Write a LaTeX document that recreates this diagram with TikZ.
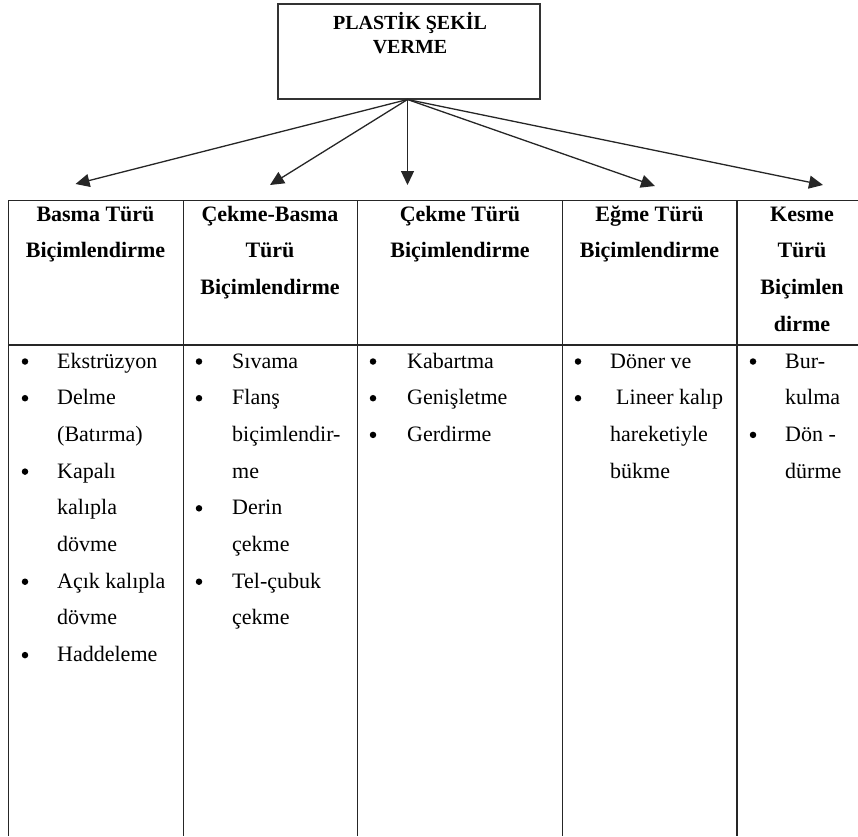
\documentclass[tikz,border=0pt]{standalone}
\usepackage{fontspec}
\setmainfont{Liberation Serif}
\usetikzlibrary{arrows.meta}
\begin{document}
\begin{tikzpicture}[x=1pt,y=-1pt,
  titlebox/.style={draw=black!80, line width=1.4pt, minimum width=262pt, minimum height=95pt, inner sep=0pt},
  titletext/.style={font=\fontsize{20}{24}\selectfont\bfseries, align=center, anchor=base, inner sep=0pt},
  hdr/.style={font=\fontsize{22}{36.7}\selectfont\bfseries, align=center, anchor=base, inner sep=0pt},
  item/.style={font=\fontsize{22}{36.7}\selectfont, align=left, anchor=base west, inner sep=0pt},
  bul/.style={circle, fill=black, inner sep=0pt, minimum size=6.5pt},
  gridline/.style={line width=1.4pt, draw=black!85},
  arr/.style={line width=1.3pt, draw=black!85, -{Triangle[length=14pt,width=13pt]}}]
\path[use as bounding box] (0,0) rectangle (858,836);
% note: for multi-line nodes the base anchor is the last line's baseline
% title box
\node[titlebox] (top) at (409,51.5) {};
\node[titletext] (title) at (410,53) {PLASTİK ŞEKİL\\VERME};

% arrows
\coordinate (src) at (407.5,99.5);
\coordinate (t1) at (75.5,184);
\coordinate (t2) at (270,185);
\coordinate (t3) at (407.5,185);
\coordinate (t4) at (655,186);
\coordinate (t5) at (823,185);
\foreach \t in {t1,t2,t3,t4,t5} \draw[arr] (src) -- (\t);

% table grid
\draw[gridline] (8,200.5) -- (858,200.5);
\draw[gridline] (8,345) -- (858,345);
\foreach \x in {8.5,183.3,357.4,562.6,737} \draw[gridline] (\x,200) -- (\x,836);

% headers (first baseline 221)
\node[hdr] (h1) at (95.5,257.7) {Basma Türü\\Biçimlendirme};
\node[hdr] (h2) at (270,294.4) {Çekme-Basma\\Türü\\Biçimlendirme};
\node[hdr] (h3) at (460,257.7) {Çekme Türü\\Biçimlendirme};
\node[hdr] (h4) at (649.5,257.7) {Eğme Türü\\Biçimlendirme};
\node[hdr] (h5) at (802,331.1) {Kesme\\Türü\\Biçimlen\\dirme};

% column 1
\node[item] (a1) at (57,368) {Ekstrüzyon};
\node[item] (a2) at (57,441.4) {Delme\\(Batırma)};
\node[item] (a3) at (57,551.5) {Kapalı\\kalıpla\\dövme};
\node[item] (a4) at (57,624.9) {Açık kalıpla\\dövme};
\node[item] (a5) at (57,661.6) {Haddeleme};
\foreach \y [count=\i] in {368,404.7,478.1,588.2,661.6} \node[bul] (ba\i) at (25,\y-6.5) {};

% column 2
\node[item] (b1) at (232,368) {Sıvama};
\node[item] (b2) at (232,478.1) {Flanş\\biçimlendir-\\me};
\node[item] (b3) at (232,551.5) {Derin\\çekme};
\node[item] (b4) at (232,624.9) {Tel-çubuk\\çekme};
\foreach \y [count=\i] in {368,404.7,514.8,588.2} \node[bul] (bb\i) at (199,\y-6.5) {};

% column 3
\node[item] (c1) at (407,368) {Kabartma};
\node[item] (c2) at (407,404.7) {Genişletme};
\node[item] (c3) at (407,441.4) {Gerdirme};
\foreach \y [count=\i] in {368,404.7,441.4} \node[bul] (bc\i) at (373,\y-6.5) {};

% column 4
\node[item] (d1) at (610,368) {Döner ve};
\node[item] (d2) at (610,478.1) {\hspace*{6pt}Lineer kalıp\\hareketiyle\\bükme};
\foreach \y [count=\i] in {368,404.7} \node[bul] (bd\i) at (578,\y-6.5) {};

% column 5
\node[item] (e1) at (785,404.7) {Bur-\\kulma};
\node[item] (e2) at (785,478.1) {Dön -\\dürme};
\foreach \y [count=\i] in {368,441.4} \node[bul] (be\i) at (753,\y-6.5) {};
\end{tikzpicture}
\end{document}
